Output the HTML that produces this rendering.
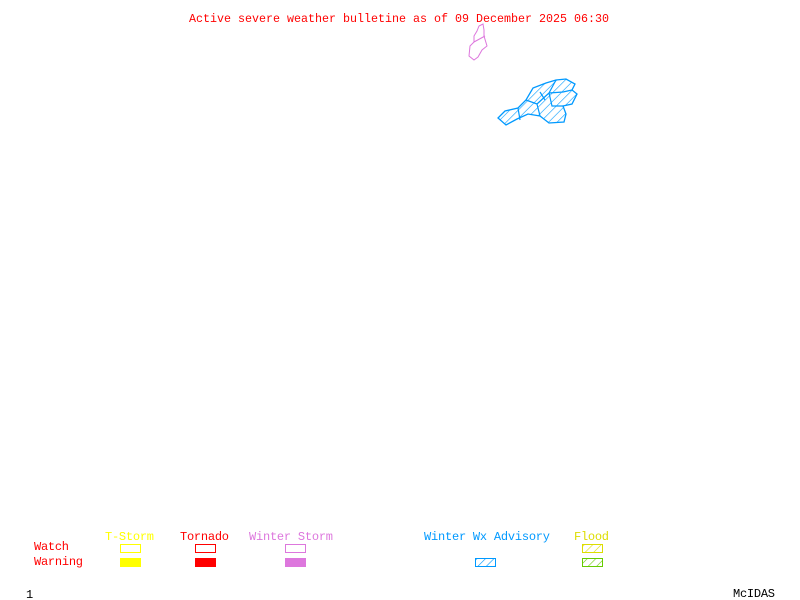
<!DOCTYPE html>
<html><head><style>body{margin:0;background:#fff}svg{display:block}</style></head><body>
<svg width="800" height="600" xmlns="http://www.w3.org/2000/svg" font-family="Liberation Mono, monospace" font-size="12">
<defs>
<pattern id="hb" width="6" height="6" patternUnits="userSpaceOnUse" patternTransform="rotate(45)"><line x1="0" y1="0" x2="0" y2="6" stroke="#0099ff" stroke-width="1.2"/></pattern>
<pattern id="hg" width="6" height="6" patternUnits="userSpaceOnUse" patternTransform="rotate(45)"><line x1="0" y1="0" x2="0" y2="6" stroke="#66cc00" stroke-width="1.2"/></pattern>
<pattern id="hy" width="6" height="6" patternUnits="userSpaceOnUse" patternTransform="rotate(45)"><line x1="0" y1="0" x2="0" y2="6" stroke="#dddd00" stroke-width="1.2"/></pattern>
</defs>
<text x="189" y="22" fill="#ff0000" textLength="420" lengthAdjust="spacingAndGlyphs">Active severe weather bulletine as of 09 December 2025 06:30</text>
<path d="M477,31 L479,26 L483,24 L484,30 L484,36 L487,46 L482,50 L478,57 L474,60 L469,56 L470,46 L474,42 L474,36 Z M474,42 L485,36" fill="none" stroke="#dd77dd" stroke-width="1"/>
<polygon points="498,118 505,111 518,108 526,100 533,88 546,83 556,80 566,79 575,84 572,90 577,94 572,104 563,106 566,114 564,122 549,123 540,116 528,114 517,119 506,125" fill="url(#hb)" stroke="#0099ff" stroke-width="1.3"/>
<path d="M526,100 L537,104 L549,93 L563,92 L572,90 M537,104 L540,116 M549,93 L556,80 M549,93 L552,106 L563,106 M518,108 L520,120 M540,92 L545,100" stroke="#0099ff" stroke-width="1.2" fill="none"/>
<g font-size="12">
<text x="105" y="540" fill="#ffff00" textLength="49">T-Storm</text>
<text x="180" y="540" fill="#ff0000" textLength="49">Tornado</text>
<text x="249" y="540" fill="#dd77dd" textLength="84">Winter Storm</text>
<text x="424" y="540" fill="#0099ff" textLength="126">Winter Wx Advisory</text>
<text x="574" y="540" fill="#dddd00" textLength="35">Flood</text>
<text x="34" y="550" fill="#ff0000" textLength="35">Watch</text>
<text x="34" y="565" fill="#ff0000" textLength="49">Warning</text>
<text x="26" y="598" fill="#000">1</text>
<text x="733" y="597" fill="#000" textLength="42">McIDAS</text>
</g>
<rect x="120.5" y="544.5" width="20" height="8" fill="none" stroke="#ffff00"/>
<rect x="120" y="558" width="21" height="9" fill="#ffff00"/>
<rect x="195.5" y="544.5" width="20" height="8" fill="none" stroke="#ff0000"/>
<rect x="195" y="558" width="21" height="9" fill="#ff0000"/>
<rect x="285.5" y="544.5" width="20" height="8" fill="none" stroke="#dd77dd"/>
<rect x="285" y="558" width="21" height="9" fill="#dd77dd"/>
<rect x="475.5" y="558.5" width="20" height="8" fill="url(#hb)" stroke="#0099ff"/>
<rect x="582.5" y="544.5" width="20" height="8" fill="url(#hy)" stroke="#dddd00"/>
<rect x="582.5" y="558.5" width="20" height="8" fill="url(#hg)" stroke="#66cc00"/>
</svg>
</body></html>
